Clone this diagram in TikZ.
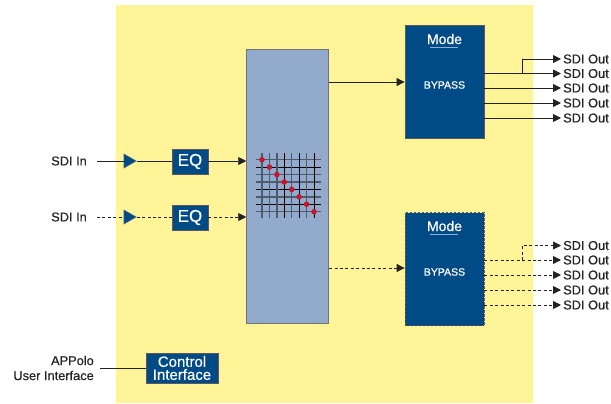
\documentclass[tikz,border=0pt]{standalone}
\usepackage{fontspec}
\setmainfont{Liberation Sans}[FakeBold=0.5]
\usetikzlibrary{arrows.meta,shapes.geometric}
\definecolor{panel}{HTML}{FFF498}
\definecolor{navy}{HTML}{004A86}
\definecolor{steel}{HTML}{92ABCD}
\definecolor{ink}{HTML}{232323}
\definecolor{gridgray}{HTML}{4F5A6C}
\definecolor{dotred}{HTML}{C4172F}
\definecolor{ulblue}{HTML}{8FB0D6}
\newcommand{\fsz}[2]{\fontsize{#1}{#2}\selectfont}
\tikzset{
  wire/.style={draw=ink,line width=0.9pt},
  dwire/.style={wire,dash pattern=on 3pt off 2.4pt},
  arr/.style={-{Triangle[length=8pt,width=8pt]}},
  lbl/.style={inner sep=0pt,text=ink,font=\fsz{12.8}{13}},
  bluebox/.style={draw=ink!75,line width=0.8pt,fill=navy,text=white,inner sep=0pt,align=center},
  eqbox/.style={bluebox,minimum width=36pt,minimum height=25pt,font=\fsz{17}{17}},
  modebox/.style={bluebox,minimum width=79pt,minimum height=113pt},
  buffer/.style={isosceles triangle,isosceles triangle apex angle=60,fill=navy,draw=ink!60,line width=0.4pt,inner sep=0pt,minimum height=12.5pt,minimum width=14pt},
}
\begin{document}
\begin{tikzpicture}[x=1pt,y=-1pt]
\useasboundingbox (0,0) rectangle (611,404);
\fill[panel] (116,5) rectangle (533,403);

% crossbar
\node[draw=gray!90!black,line width=0.9pt,fill=steel,minimum width=82pt,minimum height=274pt,inner sep=0pt] (xbar) at (287.7,186) {};
\foreach \i/\c/\w in {0/gridgray/1.5,1/black/0.9,2/gridgray/1.5,3/gridgray/1.2,4/black/0.9,5/gridgray/1.5,6/black/0.9,7/gridgray/1.5}{
  \pgfmathsetmacro{\p}{\i*7.43}
  \draw[\c,line width=\w pt] (256,159.7+\p) -- (321,159.7+\p);
}
\foreach \i/\c/\w in {0/gridgray/1.5,1/gridgray/1.5,2/gridgray/1.5,3/black/0.9,4/gridgray/1.2,5/black/0.9,6/gridgray/1.5,7/black/0.9}{
  \pgfmathsetmacro{\p}{\i*7.43}
  \draw[\c,line width=\w pt] (262+\p,153) -- (262+\p,218);
}
\foreach \i in {0,...,7}{
  \pgfmathsetmacro{\p}{\i*7.43}
  \fill[dotred] (262+\p,159.7+\p) circle (2.8pt);
}

% inputs
\node[lbl,anchor=east] (in1) at (87,161) {SDI In};
\node[lbl,anchor=east] (in2) at (87,217) {SDI In};
\node[buffer] (b1) at (128,161) {};
\node[buffer] (b2) at (128,217) {};
\node[eqbox] (eq1) at (190,161.5) {EQ};
\node[eqbox] (eq2) at (190,217.5) {EQ};
\draw[wire,shorten <=10pt] (in1.east) -- (b1.west);
\draw[wire] (b1.east) -- (eq1.west |- b1.east);
\draw[wire,arr] (eq1.east |- b1.east) -- (xbar.west |- b1.east);
\draw[dwire,shorten <=10pt] (in2.east) -- (b2.west);
\draw[dwire] (b2.east) -- (eq2.west |- b2.east);
\draw[dwire,arr] (eq2.east |- b2.east) -- (xbar.west |- b2.east);

% mode boxes
\node[modebox] (m1) at (444.5,81.5) {};
\node[modebox,dashed,dash pattern=on 2.4pt off 1.6pt] (m2) at (444.5,269) {};
\node[text=white,inner sep=0pt,font=\fsz{14}{14}] (m1t) at (444.5,39) {Mode};
\node[text=white,inner sep=0pt,font=\fsz{14}{14}] (m2t) at (444.5,226) {Mode};
\draw[ulblue,line width=1pt] (430,47.5) -- (458,47.5);
\draw[ulblue,line width=1pt] (430,234) -- (458,234);
\node[text=white,inner sep=0pt,font=\fsz{10.5}{11}] (m1b) at (444.5,85) {BYPASS};
\node[text=white,inner sep=0pt,font=\fsz{10.5}{11}] (m2b) at (444.5,272) {BYPASS};
\coordinate (x1) at (329,82);
\coordinate (x2) at (329,268);
\draw[wire,arr] (xbar.east |- x1) -- (m1.west |- x1);
\draw[dwire,arr] (xbar.east |- x2) -- (m2.west |- x2);

% outputs
\foreach \n/\y in {1/59,2/73.5,3/88,4/103,5/118}{
  \node[lbl,anchor=west] (a\n) at (563,\y) {SDI Out};
}
\foreach \n/\y in {1/245.5,2/260,3/275,4/290,5/305}{
  \node[lbl,anchor=west] (c\n) at (563,\y) {SDI Out};
}
\foreach \n in {2,3,4,5}{
  \draw[wire,arr,shorten >=2pt] (m1.east |- a\n.west) -- (a\n.west);
  \draw[dwire,arr,shorten >=2pt] (m2.east |- c\n.west) -- (c\n.west);
}
\coordinate (t1) at (522,73.5);
\coordinate (t2) at (522,260);
\draw[wire,arr,shorten >=2pt] (t1) |- (a1.west);
\draw[dwire,arr,shorten >=2pt] (t2) |- (c1.west);

% control
\node[bluebox,minimum width=72pt,minimum height=30pt,font=\fsz{15}{13}] (ctl) at (182,368) {Control\\Interface};
\node[lbl,anchor=east,align=right,font=\fsz{12.8}{15}] (ui) at (94,368) {APPolo\\User Interface};
\draw[wire,shorten <=6pt] (ui.east |- ctl.west) -- (ctl.west);
\end{tikzpicture}
\end{document}
